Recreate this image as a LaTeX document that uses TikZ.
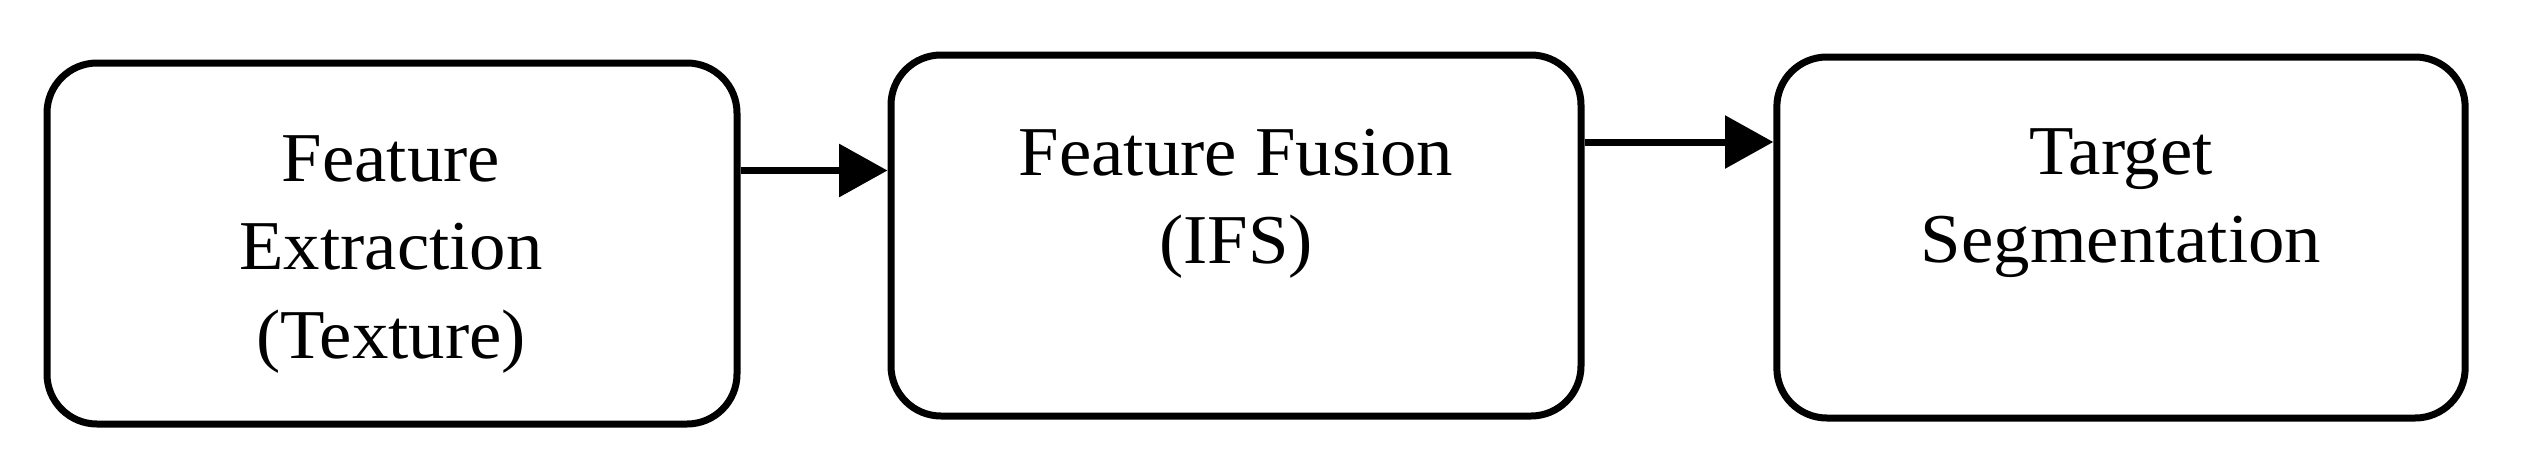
\documentclass[tikz,border=0pt]{standalone}
\usepackage{fontspec}
\setmainfont{Liberation Serif}[FakeStretch=1.04]
\usetikzlibrary{arrows.meta}
\begin{document}
\begin{tikzpicture}[x=0.3pt,y=-0.3pt,
  stagebox/.style={draw=black,line width=2.1pt,rounded corners=15pt,minimum width=207pt,minimum height=108.3pt,inner sep=0pt},
  stagetext/.style={align=center,anchor=north,inner sep=0pt,font=\fontsize{21pt}{26.5pt}\selectfont},
  arr/.style={line width=2.1pt,-{Triangle[length=14.5pt,width=15.5pt]}}]
\useasboundingbox (0,0) rectangle (2525,466);
\node[stagebox] (b1) at (392,243.5) {};
\node[stagebox] (b2) at (1236,235.5) {};
\node[stagebox,minimum width=206.5pt] (b3) at (2121,237.5) {};
\node[stagetext] (t1) at (391,135) {Feature\\Extraction\\(Texture)};
\node[stagetext] (t2) at (1236,128) {Feature Fusion\\(IFS)};
\node[stagetext] (t3) at (2121,128) {Target\\Segmentation};
\draw[arr] (b1.east |- 0,170.5) -- (b2.west |- 0,170.5);
\draw[arr] (b2.east |- 0,142) -- (b3.west |- 0,142);
\end{tikzpicture}
\end{document}
